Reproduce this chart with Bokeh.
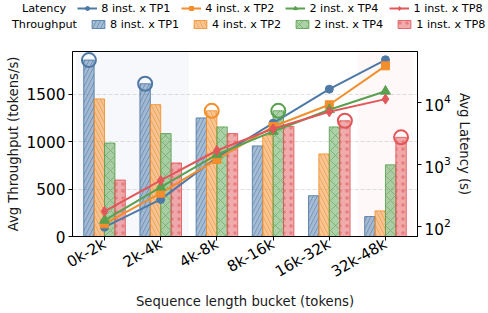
import math
from bokeh.plotting import figure
from bokeh.models import (Range1d, LogScale, LogAxis, FixedTicker, Legend,
                          LegendItem, BoxAnnotation)
from bokeh.embed import file_html
from bokeh.resources import INLINE

# ---------------- data ----------------
buckets = ["0k-2k", "2k-4k", "4k-8k", "8k-16k", "16k-32k", "32k-48k"]
configs = ["8 inst. x TP1", "4 inst. x TP2", "2 inst. x TP4", "1 inst. x TP8"]

# throughput (tokens/s)
thr_tp1 = [1860, 1610, 1250, 955, 430, 210]
thr_tp2 = [1450, 1390, 1325, 1070, 870, 270]
thr_tp4 = [985, 1085, 1155, 1325, 1155, 755]
thr_tp8 = [595, 775, 1085, 1160, 1220, 1045]

# latency (s)
lat_tp1 = [96, 270, 1280, 4580, 16200, 48300]
lat_tp2 = [109, 340, 1190, 4050, 9080, 38600]
lat_tp4 = [124, 425, 1430, 3370, 7540, 15000]
lat_tp8 = [173, 546, 1660, 3720, 7000, 11200]

left_ticks = [0, 500, 1000, 1500]

throughput = [thr_tp1, thr_tp2, thr_tp4, thr_tp8]
latency = [lat_tp1, lat_tp2, lat_tp4, lat_tp8]

# ---------------- styles ----------------
colors = ["#4e79a7", "#f28e2b", "#59a14f", "#e15759"]
hatches = ["/", "\\", "x", "."]
hatch_scales = [8, 8, 10, 7]
markers = ["circle", "square", "triangle", "diamond"]
marker_sizes = [8, 8, 10, 10]
FONT = "DejaVu Sans"
BAR_W = 0.185


def bar_style(k):
    return dict(fill_color=colors[k], fill_alpha=0.5,
                line_color=colors[k], line_alpha=0.85, line_width=1,
                hatch_pattern=hatches[k], hatch_color=colors[k],
                hatch_alpha=0.55, hatch_scale=hatch_scales[k], hatch_weight=1)


# ---------------- main chart ----------------
p = figure(width=488, height=273, output_backend="svg", toolbar_location=None,
           x_range=Range1d(-0.57, 5.57), y_range=Range1d(0, 1950),
           min_border_left=72, min_border_right=71, min_border_top=11,
           min_border_bottom=77)
p.background_fill_color = "white"
p.outline_line_color = "black"
p.outline_line_alpha = 1.0
p.xgrid.grid_line_color = None
p.ygrid.grid_line_color = "#e0e0e0"
p.ygrid.grid_line_dash = "4 2"
p.ygrid.grid_line_width = 1

# shaded regions
p.add_layout(BoxAnnotation(left=-0.5, right=1.5, fill_color=colors[0],
                           fill_alpha=0.05, line_color=None, level="underlay"))
p.add_layout(BoxAnnotation(left=4.5, right=5.5, fill_color=colors[3],
                           fill_alpha=0.045, line_color=None, level="underlay"))

n = len(buckets)
offsets = [(k - 1.5) * BAR_W for k in range(len(configs))]

for k in range(len(configs)):
    xs = [i + offsets[k] for i in range(n)]
    p.vbar(x=xs, top=throughput[k], bottom=0, width=BAR_W, **bar_style(k))

# right log axis for latency
p.extra_y_ranges = {"lat": Range1d(68, 65700)}
p.extra_y_scales = {"lat": LogScale()}
lat_axis = LogAxis(y_range_name="lat", axis_label="Avg Latency (s)")
p.add_layout(lat_axis, "right")

for k in range(len(configs)):
    xs = list(range(n))
    p.line(xs, latency[k], y_range_name="lat", line_color=colors[k],
           line_width=2)
    p.scatter(xs, latency[k], y_range_name="lat", marker=markers[k],
              size=marker_sizes[k], fill_color=colors[k],
              line_color=colors[k])

# highlight best throughput per bucket
best_x, best_y, best_c = [], [], []
for i in range(n):
    vals = [throughput[k][i] for k in range(len(configs))]
    kb = vals.index(max(vals))
    best_x.append(i + offsets[kb])
    best_y.append(vals[kb])
    best_c.append(colors[kb])
p.scatter(best_x, best_y, marker="circle", size=14, fill_color=None,
          line_color=best_c, line_width=2)

# axes
p.xaxis.ticker = FixedTicker(ticks=list(range(n)))
p.xaxis.major_label_overrides = {i: b for i, b in enumerate(buckets)}
p.xaxis.major_label_orientation = math.pi / 6
p.xaxis.axis_label = "Sequence length bucket (tokens)"
p.yaxis[0].ticker = FixedTicker(ticks=left_ticks)
p.yaxis[0].axis_label = "Avg Throughput (tokens/s)"

for ax in p.xaxis + p.yaxis:
    ax.axis_line_color = "black"
    ax.major_tick_line_color = "black"
    ax.major_tick_in = 0
    ax.major_tick_out = 4
    ax.minor_tick_line_color = None
    ax.major_label_text_font = FONT
    ax.major_label_text_font_size = "15.3px"
    ax.major_label_text_color = "black"
    ax.major_label_standoff = 3
    ax.axis_label_text_font = FONT
    ax.axis_label_text_font_size = "13.2px"
    ax.axis_label_text_font_style = "normal"
    ax.axis_label_text_color = "#1a1a1a"
    ax.axis_label_standoff = 3
p.xaxis.major_label_standoff = 2
p.xaxis.axis_label_standoff = 2
p.xaxis.major_label_text_font_size = "15px"

# ---------------- legend strip (separate root, full-width frame) ----------------
lf = figure(width=488, height=40, output_backend="svg", toolbar_location=None,
            x_range=Range1d(0, 1), y_range=Range1d(0, 1),
            x_axis_type=None, y_axis_type=None, min_border=0)
lf.outline_line_color = None
lf.grid.visible = False

# proxy glyphs kept outside the visible range, used only by the legend
OUT = [10, 11]
blank1 = lf.scatter(x=OUT[:1], y=OUT[:1], size=1, alpha=0)
blank2 = lf.scatter(x=OUT[:1], y=OUT[:1], size=1, alpha=0)
items1 = [LegendItem(label="Latency", renderers=[blank1])]
items2 = [LegendItem(label="Throughput", renderers=[blank2])]
for k in range(len(configs)):
    lr = lf.line(x=OUT, y=OUT, line_color=colors[k], line_width=2)
    mr = lf.scatter(x=OUT[:1], y=OUT[:1], marker=markers[k], size=marker_sizes[k],
                    fill_color=colors[k], line_color=colors[k])
    br = lf.vbar(x=OUT[:1], top=OUT[:1], bottom=0, width=0.1, **bar_style(k))
    items1.append(LegendItem(label=configs[k], renderers=[lr, mr]))
    items2.append(LegendItem(label=configs[k], renderers=[br]))

leg1 = Legend(items=items1, orientation="horizontal", location=(-2, 25),
              glyph_width=20, glyph_height=10, label_height=14,
              label_standoff=4, spacing=11, padding=0, margin=0)
leg2 = Legend(items=items2, orientation="horizontal", location=(-8, 9),
              glyph_width=16, glyph_height=10, label_height=14,
              label_standoff=4, spacing=13, padding=0, margin=0)
for lg in (leg1, leg2):
    lg.label_text_font = FONT
    lg.label_text_font_size = "11.2px"
    lg.label_text_color = "black"
    lg.border_line_color = None
    lg.background_fill_alpha = 0
    lf.add_layout(lg)

open("out.html", "w").write(file_html([lf, p], INLINE))
